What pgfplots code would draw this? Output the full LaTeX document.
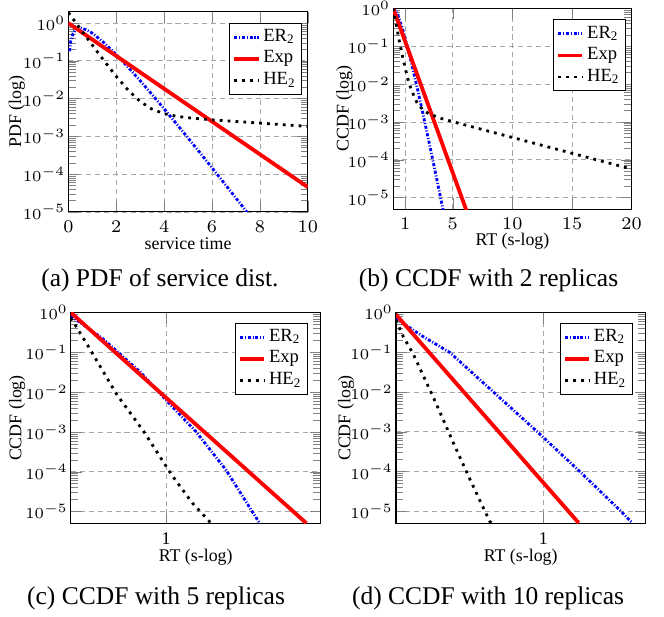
\documentclass[border=0pt]{standalone}
\usepackage{fontspec}
\setmainfont{Liberation Serif}
\usepackage{pgfplots}
\pgfplotsset{compat=1.18}

\pgfplotsset{
  myaxis/.style={
    scale only axis,
    grid=major,
    major grid style={gray!70, line width=0.3pt, dash pattern=on 2pt off 1.5pt},
    font=\fontsize{7}{8}\selectfont,
    xticklabel style={font=\fontsize{7}{8}\selectfont},
    ytick={1e-5,1e-4,1e-3,1e-2,1e-1,1},
    yticklabels={$10^{-5}$,$10^{-4}$,$10^{-3}$,$10^{-2}$,$10^{-1}$,$10^{0}$},
    yticklabel style={font=\fontsize{6}{7}\selectfont, anchor=east, inner sep=1pt},
    xlabel style={at={(axis description cs:0.5,-0.16)}, anchor=center},
    legend style={at={(0.977,0.945)}, anchor=north east,
      font=\fontsize{7.3}{8}\selectfont, draw=black, inner sep=1.2pt,
      nodes={inner sep=1.1pt}, row sep=0pt},
    legend cell align=left,
    legend image code/.code={\draw[##1] (0pt,0pt) -- (9.5pt,0pt);},
  },
}
\tikzset{
  serER/.style={blue, line width=1.1pt, dash pattern=on 1.2pt off 0.7pt on 0.4pt off 0.7pt},
  serEXP/.style={red, line width=1.5pt},
  serHE/.style={black, line width=1.1pt, dash pattern=on 1.1pt off 2pt},
}

\begin{document}
\begin{tikzpicture}
\useasboundingbox (0,0) rectangle (260.4pt,-241.6pt);

% (a) PDF of service time
\begin{axis}[myaxis, ymode=log,
  at={(26.8pt,-4.6pt)}, anchor=north west,
  width=93.9pt, height=78.5pt,
  xmin=0, xmax=10, ymin=1e-5, ymax=2,
  xtick={0,2,4,6,8,10},
  xlabel={service time}, ylabel={PDF (log)},
  ylabel style={at={(axis description cs:-0.215,0.5)}, anchor=center},
]
\addplot[serER] coordinates {
  (0.05,0.181) (0.1,0.327) (0.2,0.536) (0.3,0.659) (0.5,0.736) (0.75,0.669)
  (1,0.541) (1.5,0.299) (2,0.1465) (2.5,0.0674) (3,0.02975) (3.5,0.01277)
  (4,0.005368) (4.5,0.002221) (5,9.08e-4) (5.5,3.674e-4) (6,1.475e-4)
  (6.5,5.876e-5) (7,2.328e-5) (7.5,9.18e-6)
};
\addlegendentry{ER\textsubscript{2}}
\addplot[serEXP] coordinates {(0,1) (5,6.74e-3) (10,4.54e-5)};
\addlegendentry{Exp}
\addplot[serHE] coordinates {
  (0,1.9) (0.25,1.157) (0.5,0.704) (1,0.262) (1.5,0.0989) (2,0.0389)
  (2.5,0.0167) (3,0.00841) (3.5,0.00525) (4,0.00399) (4.5,0.00342)
  (5,0.00312) (6,0.00274) (7,0.00248) (8,0.00225) (9,0.00203) (10,0.00184)
};
\addlegendentry{HE\textsubscript{2}}
\end{axis}

% (b) CCDF with 2 replicas
\begin{axis}[myaxis, ymode=log,
  at={(154.2pt,-3.3pt)}, anchor=north west,
  width=93.5pt, height=78.7pt,
  xmin=0, xmax=20, ymin=5e-6, ymax=1,
  xtick={1,5,10,15,20},
  xlabel={RT (s-log)}, ylabel={CCDF (log)},
  ylabel style={at={(axis description cs:-0.205,0.5)}, anchor=center},
]
\addplot[serER] coordinates {
  (0,1) (0.25,0.828) (0.5,0.541) (0.75,0.311) (1,0.165) (1.5,0.0397)
  (2,8.39e-3) (2.5,1.634e-3) (3,3.01e-4) (3.5,5.32e-5) (4,9.12e-6) (4.5,1.52e-6)
};
\addlegendentry{ER\textsubscript{2}}
\addplot[serEXP] coordinates {(0,1) (3,2.479e-3) (6.2,4.1e-6)};
\addlegendentry{Exp}
\addplot[serHE] coordinates {
  (0,1) (0.25,0.375) (0.5,0.1456) (0.75,0.0599) (1,0.0267) (1.25,0.0131)
  (1.5,0.0073) (2,0.00323) (2.5,0.00208) (3,0.00164) (4,0.00125) (5,0.00102)
  (7,6.94e-4) (10,3.9e-4) (13,2.19e-4) (16,1.23e-4) (20,5.7e-5)
};
\addlegendentry{HE\textsubscript{2}}
\end{axis}

% (c) CCDF with 5 replicas
\begin{axis}[myaxis, ymode=log, xmode=log,
  at={(27.8pt,-122.6pt)}, anchor=north west,
  width=97.9pt, height=82.7pt,
  xmin=0.5, xmax=3.073, ymin=5e-6, ymax=1,
  xtick={1}, xticklabels={1}, xminorticks=false,
  legend style={at={(0.95,0.952)}},
  xlabel={RT (s-log)}, ylabel={CCDF (log)},
  ylabel style={at={(axis description cs:-0.215,0.5)}, anchor=center},
]
\addplot[serER] coordinates {
  (0.5,0.824) (0.630,0.223) (0.827,0.0325) (1.0,0.0063) (1.242,0.00102)
  (1.544,1.12e-4) (1.973,5.1e-6)
};
\addlegendentry{ER\textsubscript{2}}
\addplot[serEXP] coordinates {(0.5,1) (1.0,0.0072) (2.771,5.1e-6)};
\addlegendentry{Exp}
\addplot[serHE] coordinates {
  (0.5,0.735) (0.573,0.125) (0.698,0.00877) (0.850,0.00102) (1.041,8.3e-5)
  (1.211,1.62e-5) (1.385,5.1e-6)
};
\addlegendentry{HE\textsubscript{2}}
\end{axis}

% (d) CCDF with 10 replicas
\begin{axis}[myaxis, ymode=log, xmode=log,
  at={(155.3pt,-122.6pt)}, anchor=north west,
  width=97.8pt, height=82.6pt,
  xmin=0.35, xmax=2.067, ymin=5e-6, ymax=1,
  xtick={1}, xticklabels={1}, xminorticks=false,
  legend style={at={(0.95,0.952)}},
  xlabel={RT (s-log)}, ylabel={CCDF (log)},
  ylabel style={at={(axis description cs:-0.2,0.5)}, anchor=center},
]
\addplot[serER] coordinates {
  (0.35,0.708) (0.422,0.257) (0.513,0.1) (0.701,0.01) (0.958,0.001)
  (1.296,1e-4) (1.737,1e-5) (1.882,5.1e-6)
};
\addlegendentry{ER\textsubscript{2}}
\addplot[serEXP] coordinates {(0.35,0.891) (1.285,5.1e-6)};
\addlegendentry{Exp}
\addplot[serHE] coordinates {
  (0.35,0.646) (0.369,0.245) (0.395,0.0933) (0.463,0.00575) (0.530,4.68e-4)
  (0.597,5.6e-5) (0.682,5.6e-6) (0.692,5.1e-6)
};
\addlegendentry{HE\textsubscript{2}}
\end{axis}

\node[font=\fontsize{10}{12}\selectfont, anchor=base] at (62.7pt,-112.2pt) {(a) PDF of service dist.};
\node[font=\fontsize{10}{12}\selectfont, anchor=base] at (191.6pt,-112.2pt) {(b) CCDF with 2 replicas};
\node[font=\fontsize{10}{12}\selectfont, anchor=base] at (61.2pt,-236.9pt) {(c) CCDF with 5 replicas};
\node[font=\fontsize{10}{12}\selectfont, anchor=base] at (191.4pt,-236.9pt) {(d) CCDF with 10 replicas};
\end{tikzpicture}
\end{document}
